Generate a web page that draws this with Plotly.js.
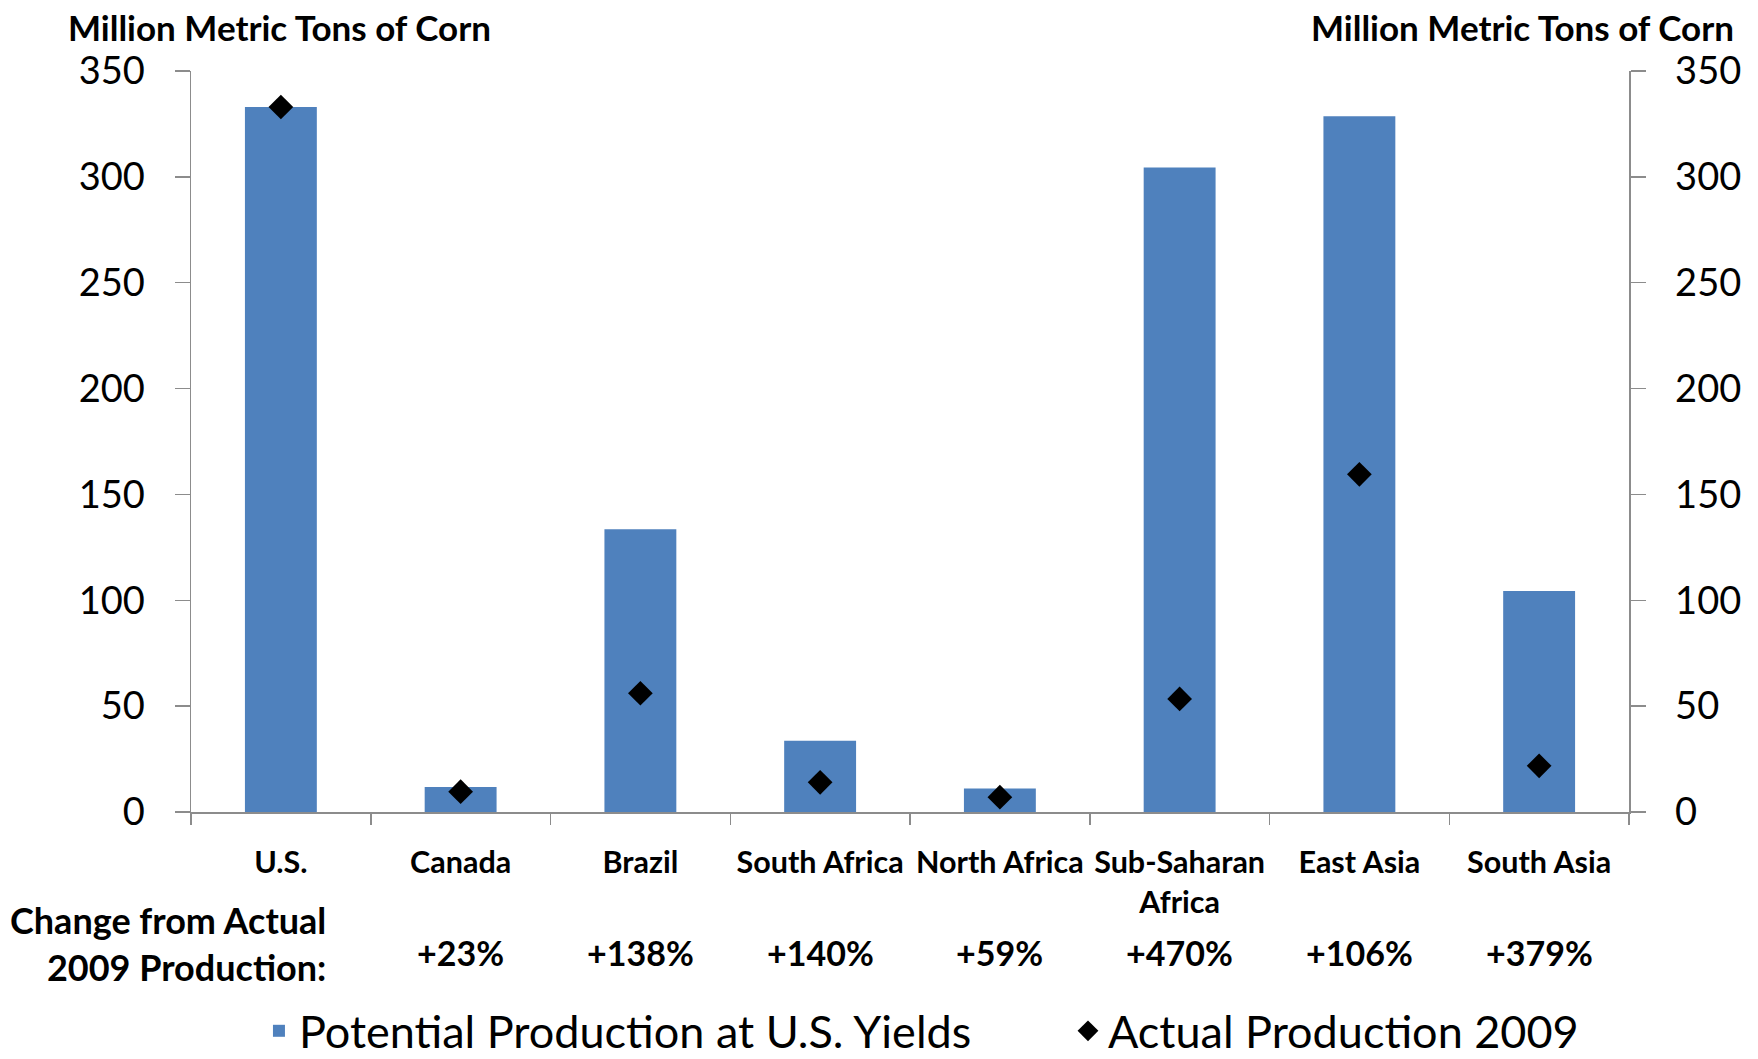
<!DOCTYPE html>
<html>
<head>
<meta charset="utf-8">
<script src="https://cdn.plot.ly/plotly-3.0.1.min.js"></script>
<style>
html,body{margin:0;padding:0;background:#fff;}
#chart{width:1758px;height:1059px;}
</style>
</head>
<body>
<div id="chart"></div>
<script>
// Data (million metric tons of corn)
const regions = ["U.S.", "Canada", "Brazil", "South Africa", "North Africa", "Sub-Saharan<br>Africa", "East Asia", "South Asia"];
const potentialAtUSYields = [333, 11.8, 133.5, 33.6, 11.1, 304.4, 328.6, 104.4];
const actual2009 = [333, 9.6, 56.1, 14.0, 7.0, 53.4, 159.5, 21.8];
const changeLabels = ["", "+23%", "+138%", "+140%", "+59%", "+470%", "+106%", "+379%"];
const yTicks = [0, 50, 100, 150, 200, 250, 300, 350];

const FONT = "Lato, 'Open Sans', 'DejaVu Sans', sans-serif";
const AXIS_GRAY = "#8c8c8c";

const traces = [
  {
    type: "bar",
    name: "Potential Production at U.S. Yields",
    x: regions,
    y: potentialAtUSYields,
    marker: {color: "#4F81BD"},
    yaxis: "y",
    legend: "legend",
    hoverinfo: "x+y"
  },
  {
    type: "scatter",
    mode: "markers",
    name: "Actual Production 2009",
    x: regions,
    y: actual2009,
    marker: {symbol: "diamond", size: 19, color: "#000000"},
    yaxis: "y2",
    legend: "legend2",
    hoverinfo: "x+y"
  }
];

const annotations = [
  {
    text: "<b>Million Metric Tons of Corn</b>",
    xref: "paper", yref: "paper", x: -0.087, y: 1.06,
    xanchor: "left", yanchor: "middle", showarrow: false,
    font: {family: FONT, size: 35, color: "#000"}
  },
  {
    text: "<b>Million Metric Tons of Corn</b>",
    xref: "paper", yref: "paper", x: 1.0744, y: 1.06,
    xanchor: "right", yanchor: "middle", showarrow: false,
    font: {family: FONT, size: 35, color: "#000"}
  },
  {
    text: "<b>Change from Actual<br>2009 Production:</b>",
    xref: "paper", yref: "paper", x: 0.0953, y: -0.1775,
    xanchor: "right", yanchor: "middle", align: "right", showarrow: false,
    font: {family: FONT, size: 36, color: "#000"}
  }
];
regions.forEach(function (r, i) {
  if (changeLabels[i]) {
    annotations.push({
      text: "<b>" + changeLabels[i] + "</b>",
      xref: "x", yref: "paper", x: r, y: -0.19,
      xanchor: "center", yanchor: "middle", showarrow: false,
      font: {family: FONT, size: 34, color: "#000"}
    });
  }
});

const legendBase = {
  orientation: "h",
  xref: "container", yref: "container",
  y: 0.0264, xanchor: "left", yanchor: "middle",
  font: {family: FONT, size: 45, color: "#000"},
  bgcolor: "rgba(0,0,0,0)"
};

const layout = {
  width: 1758,
  height: 1059,
  paper_bgcolor: "#ffffff",
  plot_bgcolor: "#ffffff",
  margin: {l: 191, r: 129, t: 71, b: 247, pad: 0, autoexpand: false},
  font: {family: FONT, color: "#000"},
  bargap: 0.6,
  showlegend: true,
  legend: Object.assign({}, legendBase, {x: 0.1473}),
  legend2: Object.assign({}, legendBase, {x: 0.6075}),
  xaxis: {
    type: "category",
    showline: true, linecolor: AXIS_GRAY, linewidth: 1.5,
    ticks: "outside", ticklen: 11, tickcolor: AXIS_GRAY, tickwidth: 1.5,
    tickson: "boundaries",
    tickangle: 0,
    showgrid: false, zeroline: false,
    tickfont: {family: FONT, size: 30.5, color: "#000"},
    ticklabelstandoff: 23,
    tickprefix: "<b>", ticksuffix: "</b>",
    fixedrange: true
  },
  yaxis: {
    range: [0, 350],
    tickmode: "array", tickvals: yTicks,
    showline: true, linecolor: AXIS_GRAY, linewidth: 1.5,
    ticks: "outside", ticklen: 15, tickcolor: AXIS_GRAY, tickwidth: 1.5,
    showgrid: false, zeroline: false,
    tickfont: {family: FONT, size: 38, color: "#000"},
    ticklabelstandoff: 22,
    fixedrange: true
  },
  yaxis2: {
    range: [0, 350],
    overlaying: "y", side: "right", anchor: "x",
    tickmode: "array", tickvals: yTicks,
    showline: true, linecolor: AXIS_GRAY, linewidth: 1.5,
    ticks: "outside", ticklen: 15, tickcolor: AXIS_GRAY, tickwidth: 1.5,
    showgrid: false, zeroline: false,
    tickfont: {family: FONT, size: 38, color: "#000"},
    ticklabelstandoff: 22,
    fixedrange: true
  },
  annotations: annotations
};

Plotly.newPlot("chart", traces, layout, {displayModeBar: false, staticPlot: true});
</script>
</body>
</html>
